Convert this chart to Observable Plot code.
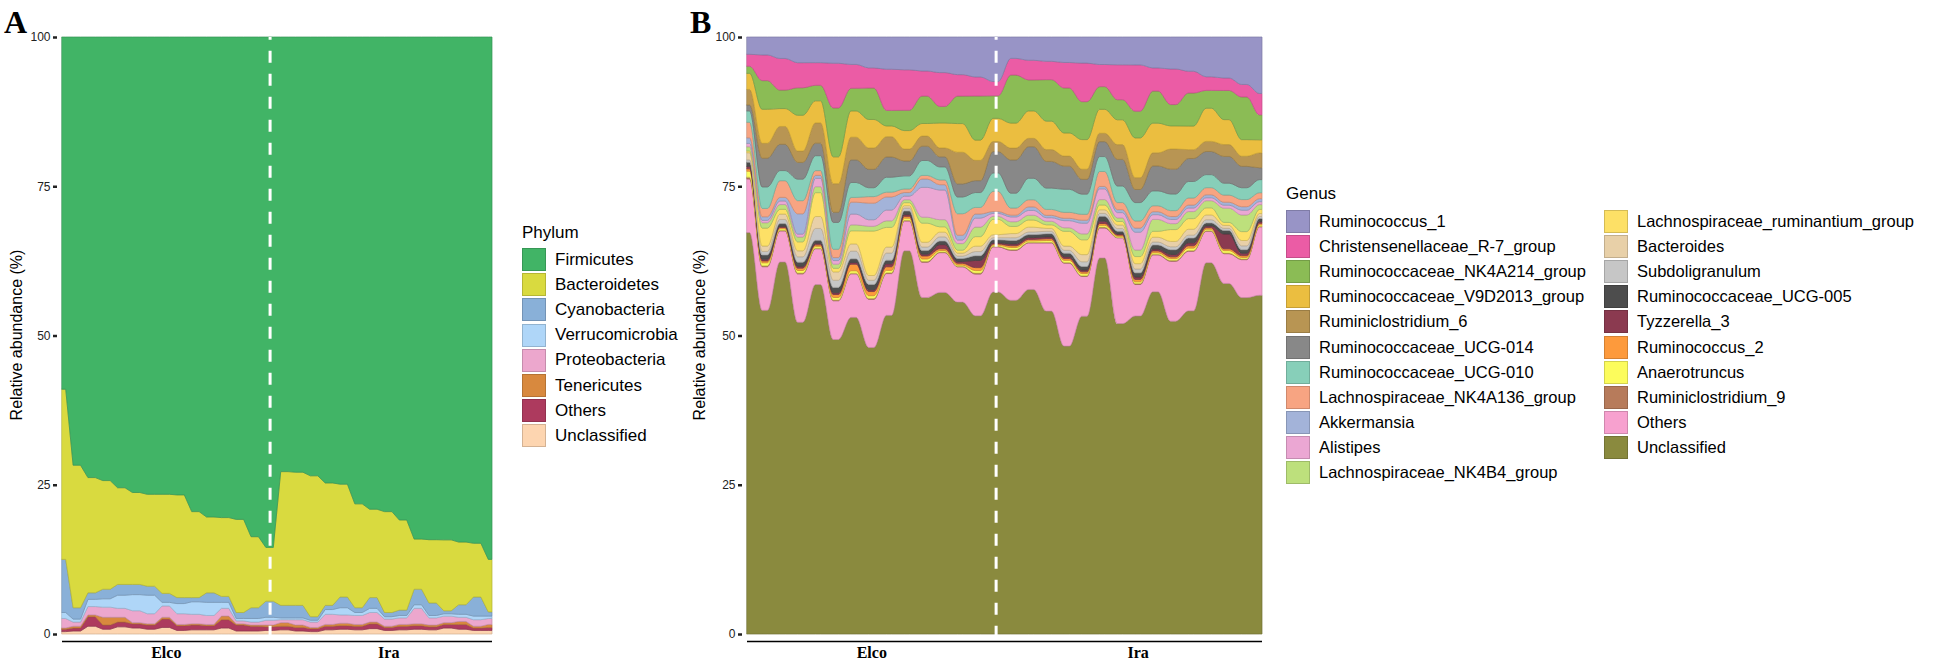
<!DOCTYPE html>
<html><head><meta charset="utf-8">
<script src="https://cdn.jsdelivr.net/npm/d3@7"></script>
<script src="https://cdn.jsdelivr.net/npm/@observablehq/plot@0.6"></script>
<style>
html,body{margin:0;padding:0;background:#fff;}
#root{position:relative;width:1946px;height:662px;overflow:hidden;font-family:"Liberation Sans",Arial,sans-serif;color:#000;}
#root svg{position:absolute;top:0;}
.letter{position:absolute;top:7px;font-family:"Liberation Serif","Times New Roman",serif;font-weight:bold;font-size:32px;line-height:30px;}
.ytitle{position:absolute;font-size:16px;white-space:nowrap;transform:translate(-50%,-50%) rotate(-90deg);}
.ltitle{position:absolute;font-size:17px;line-height:20px;}
.item{position:absolute;height:23px;display:flex;align-items:center;font-size:17px;white-space:nowrap;}
.item.narrow{font-size:16.5px;}
.sw{width:24px;height:23px;box-sizing:border-box;border:1px solid;margin-right:9px;flex:none;}
</style></head><body><div id="root"></div>
<script>
// ---------- shared ----------
const groups = ["Elco", "Ira"];
const samplesPerGroup = 15;
const yTicks = [0, 25, 50, 75, 100];

// ---------- panel A : phylum ----------
const phyla = ["Firmicutes","Bacteroidetes","Cyanobacteria","Verrucomicrobia","Proteobacteria","Tenericutes","Others","Unclassified"];
const phylumColors = ["#41b466","#d9da3f","#89b0d8","#afd6f8","#eca7cd","#d8893e","#ad3a5e","#fdd5b0"];
const firmicutes      = [59.0,71.8,73.8,74.3,75.5,76.3,76.6,76.6,76.7,79.5,80.4,80.5,80.8,83.7,85.5,72.8,72.9,73.5,74.7,74.9,78.2,79.1,79.5,80.9,84.1,84.2,84.4,84.6,84.8,87.5];
const bacteroidetes   = [28.5,23.9,19.3,18.2,16.2,15.4,15.4,16.6,17.2,14.4,12.7,13.2,15.6,11.9,9.0,22.4,22.3,23.6,20.5,18.9,17.4,14.8,16.9,15.1,8.4,10.6,11.9,10.5,9.0,8.8];
const cyanobacteria   = [8.9,1.9,1.1,1.6,1.8,1.7,1.5,1.5,1.0,0.7,1.6,1.0,1.0,1.8,2.7,2.1,2.1,0.6,0.7,1.8,0.8,1.8,0.7,0.9,2.6,2.1,0.5,1.6,3.2,0.7];
const verrucomicrobia = [1.0,0.5,1.2,1.4,2.2,2.7,3.1,0.6,1.7,2.1,2.2,1.0,0.4,0.6,0.5,0.3,0.3,0.3,0.8,1.2,0.5,0.7,0.4,0.4,0.6,0.4,0.4,0.5,0.6,0.4];
const proteobacteria  = [1.6,0.7,1.4,1.7,1.5,2.0,1.7,1.9,1.8,1.6,1.5,1.3,0.5,0.5,0.8,0.5,0.9,0.9,1.7,1.4,1.5,1.6,1.2,1.1,2.6,1.2,1.1,0.7,1.1,1.0];
const tenericutes     = [0.2,0.3,0.3,1.3,0.8,0.2,0.2,0.3,0.2,0.2,0.2,0.6,0.2,0.2,0.3,0.6,0.4,0.2,0.3,0.4,0.3,0.3,0.2,0.3,0.3,0.3,0.3,0.5,0.3,0.5];
const othersPhylum    = [0.4,0.5,1.6,0.7,0.8,0.7,0.7,1.4,0.8,0.8,0.7,1.4,1.0,0.8,0.6,0.6,0.6,0.5,0.6,0.6,0.6,0.8,0.5,0.6,0.6,0.5,0.6,0.8,0.4,0.5];
const unclassPhylum   = [0.4,0.5,1.3,0.8,1.2,1.0,0.8,1.1,0.6,0.7,0.7,1.0,0.5,0.5,0.6,0.7,0.5,0.4,0.7,0.8,0.7,0.9,0.6,0.7,0.8,0.7,1.0,0.8,0.6,0.6];
const phylumValues = [firmicutes,bacteroidetes,cyanobacteria,verrucomicrobia,proteobacteria,tenericutes,othersPhylum,unclassPhylum];

// ---------- panel B : genus ----------
const genera = ["Ruminococcus_1","Christensenellaceae_R-7_group","Ruminococcaceae_NK4A214_group","Ruminococcaceae_V9D2013_group","Ruminiclostridium_6","Ruminococcaceae_UCG-014","Ruminococcaceae_UCG-010","Lachnospiraceae_NK4A136_group","Akkermansia","Alistipes","Lachnospiraceae_NK4B4_group","Lachnospiraceae_ruminantium_group","Bacteroides","Subdoligranulum","Ruminococcaceae_UCG-005","Tyzzerella_3","Ruminococcus_2","Anaerotruncus","Ruminiclostridium_9","Others","Unclassified"];
const genusColors = ["#9894c6","#eb5ca5","#8bbc55","#ebbe40","#b89553","#888888","#87cfb9","#f7a482","#a3b3d9","#eba7d3","#bde07c","#fde066","#e8d0a8","#c6c6c6","#4d4d4d","#8b3a50","#fd9a3c","#fcfc5c","#b77b5b","#f7a1cf","#8a8a3e"];
const ruminococcus1   = [2.9,3.0,3.6,4.3,4.3,4.4,4.6,5.2,5.4,5.5,5.7,6.0,6.3,6.7,7.5,3.6,3.9,4.1,4.3,4.4,4.6,4.7,4.7,5.2,5.4,5.8,6.7,6.9,8.0,9.5];
const christensen     = [2.0,4.3,5.3,4.2,3.8,7.5,4.0,3.4,6.9,6.8,4.2,5.7,3.6,3.2,2.4,2.8,3.3,3.1,4.3,6.5,3.7,5.9,7.8,3.9,6.0,3.7,2.3,2.1,2.1,3.6];
const nk4a214         = [1.2,4.8,3.1,4.6,2.6,8.2,3.8,5.3,2.6,3.4,4.6,2.8,4.6,7.4,3.8,8.1,5.2,7.0,7.6,6.4,3.8,3.4,4.5,5.4,3.6,5.6,3.0,4.9,7.2,4.2];
const v9d2013         = [2.7,5.7,3.0,6.0,3.7,4.5,4.4,4.8,1.8,3.1,2.1,4.2,4.8,3.4,3.9,4.2,4.6,4.8,3.9,5.0,4.0,4.2,6.7,5.0,3.9,4.0,5.6,4.2,2.8,2.2];
const ruminiclos6     = [2.6,2.5,3.0,1.9,3.4,4.8,3.8,3.6,3.4,2.0,1.7,1.5,5.3,3.4,1.7,2.0,1.4,2.0,1.7,1.7,1.4,2.5,2.0,2.2,3.4,1.5,1.7,2.0,1.7,2.5];
const ucg014          = [1.0,4.8,4.4,2.8,2.1,1.7,3.8,3.1,3.4,2.5,2.4,1.7,2.2,2.0,3.6,5.6,5.3,4.5,3.9,2.5,2.5,4.5,2.2,4.2,4.2,3.9,3.9,4.5,3.6,2.0];
const ucg010          = [1.9,3.6,1.7,3.6,2.5,4.5,2.5,1.5,2.5,2.2,2.5,2.2,2.8,2.5,3.1,2.5,3.6,3.6,3.9,3.4,2.5,2.8,3.1,2.5,2.8,2.8,2.2,2.0,2.0,2.2];
const nk4a136         = [2.6,1.4,2.8,2.2,0.8,1.4,0.8,1.1,0.8,0.6,0.6,0.8,3.6,1.1,3.4,1.2,1.2,1.0,1.0,1.0,2.5,1.2,1.2,1.0,1.0,1.2,1.2,1.2,1.2,1.0];
const akkermansia     = [0.95,0.6,0.6,3.4,0.5,0.5,2.0,2.8,2.2,0.6,1.4,0.9,0.8,0.7,0.3,0.3,0.6,0.4,0.4,0.5,0.4,0.5,0.7,0.5,0.5,0.5,0.5,0.5,0.6,0.5];
const alistipes       = [0.55,0.4,0.6,0.5,1.4,0.6,1.8,1.1,1.8,0.6,5.0,5.0,0.6,1.5,0.5,0.8,0.8,0.6,1.2,1.8,1.8,0.9,3.0,0.8,0.7,0.6,0.5,0.5,0.8,0.5];
const nk4b4           = [0.7,0.9,0.8,0.8,1.0,0.7,1.0,0.8,1.1,0.5,1.0,1.2,1.1,1.6,0.5,0.8,0.8,0.6,0.6,1.0,0.9,0.6,1.1,2.0,1.0,1.2,1.2,2.4,2.8,0.8];
const ruminantium     = [0.3,3.0,0.8,1.5,4.0,0.6,2.2,7.5,3.3,0.5,3.2,0.9,0.5,1.6,2.6,1.2,1.2,0.6,2.5,2.5,0.8,0.6,1.2,1.0,2.0,1.8,1.2,0.5,1.5,0.7];
const bacteroides     = [1.2,0.9,0.9,1.0,2.0,1.4,1.2,0.8,1.0,0.4,0.8,0.8,0.5,0.9,0.5,0.7,0.8,0.5,0.7,1.2,0.6,0.6,0.9,0.8,0.9,1.0,0.8,0.5,0.9,0.5];
const subdoligranulum = [0.4,0.6,0.7,0.9,2.0,1.2,1.3,0.7,1.2,0.5,0.6,0.7,0.4,0.7,0.35,0.45,0.45,0.4,0.5,0.8,0.5,0.45,0.65,0.5,0.5,0.5,0.55,0.35,0.65,0.35];
const ucg005          = [0.7,0.7,0.45,0.7,0.5,0.9,0.6,0.9,0.6,0.6,0.6,0.6,0.5,0.8,0.5,0.6,0.5,0.55,0.6,0.6,0.8,0.45,0.7,0.7,0.8,0.8,0.5,0.6,0.6,0.5];
const tyzzerella3     = [0.4,0.3,0.2,0.3,0.25,0.3,0.3,0.3,0.5,0.3,0.3,0.7,0.3,1.2,0.2,0.3,0.3,0.3,0.3,0.3,0.4,0.2,0.4,0.3,0.4,0.5,0.3,2.5,0.4,0.3];
const ruminococcus2   = [0.4,0.3,0.2,0.4,0.25,0.5,1.1,0.7,0.6,0.3,0.5,0.3,0.3,0.5,0.2,0.3,0.25,0.3,0.3,0.3,0.3,0.2,0.4,0.3,0.3,0.4,0.25,0.3,0.3,0.25];
const anaerotruncus   = [1.0,0.5,0.28,0.4,0.3,0.4,0.4,0.45,0.4,0.35,0.4,0.25,0.2,0.4,0.2,0.35,0.25,0.3,0.35,0.35,0.3,0.2,0.3,0.25,0.3,0.4,0.25,0.4,0.25,0.25];
const ruminiclos9     = [0.3,0.16,0.1,0.16,0.1,0.14,0.12,0.17,0.14,0.13,0.16,0.11,0.1,0.18,0.1,0.13,0.1,0.12,0.13,0.13,0.16,0.07,0.16,0.13,0.16,0.14,0.1,0.12,0.13,0.1];
const othersGenus     = [9.0,7.3,5.2,8.1,6.0,6.5,7.3,8.1,7.0,5.0,5.9,6.7,5.9,7.0,7.6,8.4,7.8,11.5,14.0,6.7,5.0,14.5,5.3,6.2,10.1,10.1,5.3,5.0,6.4,11.5];
const unclassGenus    = [67.3,54.2,62.4,52.2,58.6,49.4,53.1,48.3,53.4,64.3,56.4,57.6,55.6,53.4,57.6,56.2,57.8,54.5,48.6,53.6,62.9,52.5,53.6,57.6,52.8,54.8,62.6,59.0,56.7,57.0];
const genusValues = [ruminococcus1,christensen,nk4a214,v9d2013,ruminiclos6,ucg014,ucg010,nk4a136,akkermansia,alistipes,nk4b4,ruminantium,bacteroides,subdoligranulum,ucg005,tyzzerella3,ruminococcus2,anaerotruncus,ruminiclos9,othersGenus,unclassGenus];

// ---------- build ----------
const N = groups.length * samplesPerGroup;
const boundary = samplesPerGroup - 1;
const centers = groups.map((g, k) => k * samplesPerGroup + (samplesPerGroup - 1) / 2);

function rowsFor(names, colors, values, half) {
  const rows = [];
  for (let k = names.length - 1; k >= 0; k--) {       // bottom layer first
    for (let i = 0; i < N; i++) {
      const xs = [Math.max(0, i - half), Math.min(N - 1, i + half)];
      for (const x of xs) rows.push({series: names[k], color: colors[k], x, v: values[k][i]});
    }
  }
  return rows;
}

function chart(rows, curve, width, marginLeft) {
  return Plot.plot({
    width, height: 662, marginLeft, marginRight: 8, marginTop: 37, marginBottom: 28,
    x: {domain: [0, N - 1], axis: null},
    y: {domain: [0, 1], axis: null},
    color: {type: "identity"},
    style: {background: "transparent", overflow: "visible", fontFamily: "Liberation Sans, Arial, sans-serif"},
    marks: [
      Plot.areaY(rows, {x: "x", y: "v", z: "series", fill: "color",
        stroke: d => d3.color(d.color).darker(0.55).formatHex(), strokeWidth: 0.7,
        offset: "normalize", curve}),
      Plot.ruleY([0], {dy: 7, stroke: "#000", strokeWidth: 1.4}),
      Plot.ruleX([boundary], {y1: -0.045, y2: 1, stroke: "#fff", strokeWidth: 3, strokeDasharray: "12,11"}),
      Plot.axisY({ticks: yTicks.map(t => t / 100), tickFormat: d => Math.round(d * 100), tickSize: 4,
        tickPadding: 3, dx: -5, strokeWidth: 2.5, fontSize: 12, color: "#222", label: null}),
      Plot.axisX({ticks: centers, tickFormat: c => groups[centers.indexOf(c)], tickSize: 0, tickPadding: 12,
        fontSize: 16, fontWeight: "bold", fontFamily: "Liberation Serif, Times New Roman, serif", color: "#000", label: null})
    ]
  });
}

const root = document.getElementById("root");
const svgA = chart(rowsFor(phyla, phylumColors, phylumValues, 0.25), "linear", 500, 62);
svgA.style.left = "0px";
root.appendChild(svgA);
const svgB = chart(rowsFor(genera, genusColors, genusValues, 0.15), "monotone-x", 580, 57);
svgB.style.left = "690px";
root.appendChild(svgB);

function add(html, cls, style) {
  const d = document.createElement("div");
  d.className = cls; d.innerHTML = html; Object.assign(d.style, style); root.appendChild(d); return d;
}
add("A", "letter", {left: "4px"});
add("B", "letter", {left: "690px"});
add("Relative abundance (%)", "ytitle", {left: "17px", top: "335px"});
add("Relative abundance (%)", "ytitle", {left: "700px", top: "335px"});

function legend(title, names, colors, x, titleTop, firstTop, step, perCol, colGap, extra) {
  add(title, "ltitle", {left: x + "px", top: titleTop + "px"});
  names.forEach((n, k) => {
    const col = Math.floor(k / perCol), row = k % perCol;
    const it = add("", "item" + (extra ? " " + extra : ""), {left: (x + col * colGap) + "px", top: (firstTop + row * step) + "px"});
    const sw = document.createElement("span");
    sw.className = "sw"; sw.style.background = colors[k];
    sw.style.borderColor = d3.color(colors[k]).darker(0.5).formatHex();
    it.appendChild(sw);
    it.appendChild(document.createTextNode(n));
  });
}
legend("Phylum", phyla, phylumColors, 522, 223, 248, 25.2, 8, 0);
legend("Genus", genera, genusColors, 1286, 184, 210, 25.1, 11, 318, "narrow");
</script></body></html>
